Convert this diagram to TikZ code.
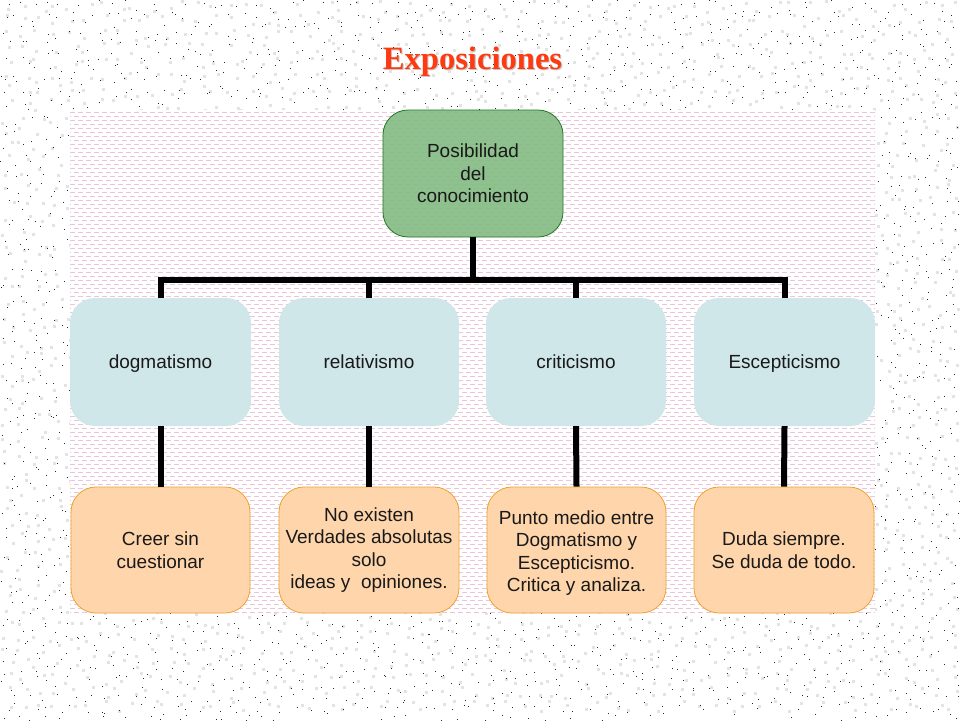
\documentclass[tikz,border=0pt]{standalone}
\usepackage{fontspec}
\setmainfont{Liberation Sans}
\newfontfamily\titlefont{Liberation Serif}
\definecolor{dashpink}{HTML}{EBC6DA}
\definecolor{greenfill}{HTML}{86BC86}
\definecolor{greenline}{HTML}{1F7A1F}
\definecolor{bluefill}{HTML}{CFE7EA}
\definecolor{orangefill}{HTML}{FFD5AA}
\definecolor{orangeline}{HTML}{F0A030}
\definecolor{titlered}{HTML}{FF3A10}
\tikzset{
  boxbase/.style={rounded corners=25pt,inner sep=0pt,minimum width=180pt,align=center,font=\fontsize{19}{22.5}\selectfont,text=black!90},
  rootbox/.style={boxbase,draw=greenline,line width=.8pt,fill=greenfill,fill opacity=.92,text opacity=1,minimum height=127pt},
  schoolbox/.style={boxbase,fill=bluefill,fill opacity=.97,text opacity=1,minimum height=128pt,text height=17pt,text depth=4pt},
  notebox/.style={boxbase,draw=orangeline,line width=.8pt,fill=orangefill,fill opacity=.97,text opacity=1,minimum height=126pt},
  link/.style={line width=6pt,black},
  dashrow/.style={dashpink,line width=.7pt},
  titletext/.style={font=\titlefont\bfseries\fontsize{32.6}{32.6}\selectfont}
}
\begin{document}
\begin{tikzpicture}[x=1pt,y=-1pt]
\useasboundingbox (0,0) rectangle (960,720);
\fill[white] (0,0) rectangle (960,720);
\pgfmathsetseed{4711}
% speckled paper: light grey flecks, then black dots on a jittered grid
\foreach \gx in {0,16,...,944}{
  \foreach \gy in {0,14,...,706}{
    \pgfmathsetmacro{\px}{\gx+random(0,13)}
    \pgfmathsetmacro{\py}{\gy+random(0,11)}
    \fill[black!11] (\px,\py) rectangle +(3,3);
  }
}
\foreach \gx in {0,13,...,949}{
  \foreach \gy in {0,13,...,715}{
    \pgfmathsetmacro{\px}{\gx+random(0,12)}
    \pgfmathsetmacro{\py}{\gy+random(0,12)}
    \fill[black!85] (\px,\py) rectangle +(1.3,1.3);
  }
}
% panel
\fill[white] (70,110) rectangle (875,613);
\foreach \r in {0,...,62}{
  \pgfmathsetmacro{\yy}{112+8*\r}
  \draw[dashrow,dash pattern=on 5pt off 3pt] (70,\yy) -- (875,\yy);
  \pgfmathsetmacro{\yz}{116+8*\r}
  \draw[dashrow,dash pattern=on 5pt off 3pt,dash phase=4pt] (70,\yz) -- (875,\yz);
}
% title
\node[titletext,text=black!22] at (473.6,62.6) {Exposiciones};
\node (title) [titletext,text=titlered] at (472.5,61.5) {Exposiciones};
% nodes
\node (root) [rootbox] at (473,173.5) {Posibilidad\\del\\conocimiento};
\node (dog) [schoolbox,minimum width=181pt] at (160.5,362) {dogmatismo};
\node (rel) [schoolbox] at (369,362) {relativismo};
\node (cri) [schoolbox] at (576,362) {criticismo};
\node (esc) [schoolbox,minimum width=181pt] at (784.5,362) {Escepticismo};
\node (dognote) [notebox,minimum width=179pt] at (160.5,550) {Creer sin\\cuestionar};
\node (relnote) [notebox] at (369,550) {No existen\\Verdades absolutas\\solo\\ideas y\ \ opiniones.};
\node (crinote) [notebox,minimum width=179pt] at (576.5,550) {\rule{0pt}{20pt}Punto medio entre\\Dogmatismo y\\Escepticismo.\\Critica y analiza.};
\node (escnote) [notebox] at (784,550) {Duda siempre.\\Se duda de todo.};
% connectors
\coordinate (bus) at (473,280);
\draw[link] (root.south) -- (bus);
\draw[link,line join=miter] (dog.north) -- (dog.north |- bus) -- (esc.north |- bus) -- (esc.north);
\draw[link] (rel.north) -- (rel.north |- bus);
\draw[link] (cri.north) -- (cri.north |- bus);
\draw[link] (dog.south) -- (dognote.north);
\draw[link] (rel.south) -- (relnote.north);
\draw[link] (cri.south) -- (crinote.north);
\draw[link] (esc.south) -- (escnote.north);
\end{tikzpicture}
\end{document}
